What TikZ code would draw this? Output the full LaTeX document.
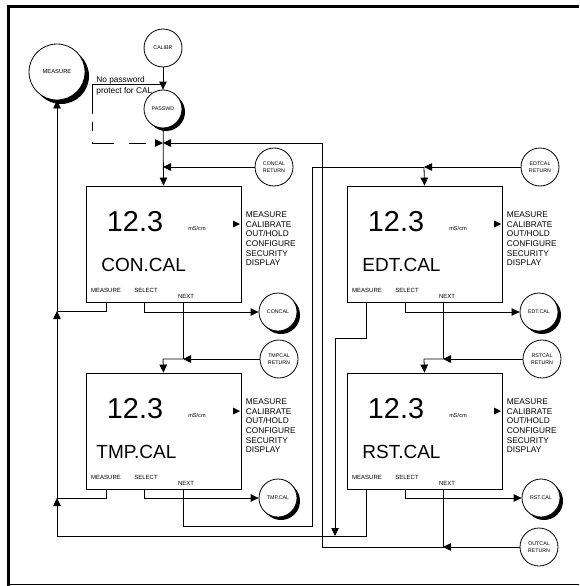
\documentclass[tikz,border=0pt]{standalone}
\usepackage{fontspec}
\setmainfont{Liberation Sans}
\usetikzlibrary{arrows.meta,shadows}
\begin{document}
\begin{tikzpicture}[x=1pt,y=-1pt,line width=0.8pt,
  arr/.style={-{Triangle[length=8pt,width=7.5pt]}},
  circ/.style={circle,draw,fill=white,minimum size=38pt,inner sep=0pt,align=center,font=\fontsize{5.3}{6.8}\selectfont},
  shcirc/.style={circ,drop shadow={shadow xshift=3pt,shadow yshift=-3pt,fill=black,opacity=1}},
  bigcirc/.style={circle,draw,fill=white,minimum size=56pt,inner sep=0pt,font=\fontsize{5.8}{7}\selectfont,
     drop shadow={shadow xshift=4pt,shadow yshift=-4pt,fill=black,opacity=1}},
  lcd/.style={draw,minimum width=155pt,minimum height=116pt,inner sep=0pt},
  bignum/.style={font=\fontsize{28.8}{30}\selectfont,anchor=base,inner sep=0pt},
  lcdname/.style={font=\fontsize{19}{20}\selectfont,anchor=base west,inner sep=0pt},
  unitlbl/.style={font=\fontsize{5.6}{6}\selectfont,anchor=base,inner sep=0pt},
  keylbl/.style={font=\fontsize{6}{7}\selectfont,anchor=base,inner sep=0pt},
  menulbl/.style={font=\fontsize{8.3}{9.7}\selectfont,anchor=base west,inner sep=0pt},
  notelbl/.style={font=\fontsize{8.3}{9.7}\selectfont,anchor=base west,inner sep=0pt}
]
\useasboundingbox (0,0) rectangle (579,586);
% frame
\draw[line width=3pt] (7,6.5) -- (579,6.5);
\draw[line width=3pt] (8.5,5) -- (8.5,585.5);
\draw[line width=1.3pt] (7,584.6) -- (579,584.6);

% panel macro: #1 left x, #2 top y, #3 prefix, #4 name, #5 name x offset
\newcommand\lcdpanel[5]{%
  \node[bignum] (#3num) at (#1+49,#2+45.5) {12.3};
  \node[unitlbl] (#3unit) at (#1+111,#2+44) {mS/cm};
  \node[lcdname] (#3name) at (#1+#5,#2+85) {#4};
  \node[keylbl] (#3meas) at (#1+20,#2+106.5) {MEASURE};
  \node[keylbl] (#3sel) at (#1+60,#2+106.5) {SELECT};
  \node[keylbl] (#3next) at (#1+100,#2+112.5) {NEXT};
  \fill (#1+147,#2+34.5) -- (#1+154,#2+38) -- (#1+147,#2+41.5) -- cycle;
  \foreach \t [count=\i from 0] in {MEASURE,CALIBRATE,OUT/HOLD,CONFIGURE,SECURITY,DISPLAY}
    \node[menulbl] (#3menu\i) at (#1+159.5,#2+31.3+9.7*\i) {\t};
}

% boxes
\node[lcd] (b1) at (163.5,244) {};
\node[lcd] (b2) at (163.5,431) {};
\node[lcd] (b3) at (424.5,244) {};
\node[lcd] (b4) at (424.5,431) {};
\lcdpanel{86}{186}{p1}{CON.CAL}{15}
\lcdpanel{86}{373}{p2}{TMP.CAL}{10}
\lcdpanel{347}{186}{p3}{EDT.CAL}{15}
\lcdpanel{347}{373}{p4}{RST.CAL}{15}

% circles
\node[bigcirc] (measure) at (57,72) {MEASURE};
\node[circ] (calibr) at (163,48) {CALIBR};
\node[shcirc] (passwd) at (163,109) {PASSWD};
\node[circ] (concalret) at (274,167) {CONCAL\\RETURN};
\node[circ] (edtcalret) at (540,167) {EDTCAL\\RETURN};
\node[shcirc] (concal) at (278,312) {CONCAL};
\node[circ] (tmpcalret) at (279,359) {TMPCAL\\RETURN};
\node[shcirc] (tmpcal) at (278,498) {TMP.CAL};
\node[shcirc] (edtcal) at (539,312) {EDT.CAL};
\node[circ] (rstcalret) at (542,359) {RSTCAL\\RETURN};
\node[shcirc] (rstcal) at (541,498) {RST.CAL};
\node[circ] (outcalret) at (539,547) {OUTCAL\\RETURN};

% note
\node[notelbl] (note1) at (96,82.3) {No password};
\node[notelbl] (note2) at (96,93.3) {protect for CAL};

% junctions
\coordinate (np) at (163,84);
\coordinate (ja) at (163,143);
\coordinate (jb) at (163,167);
\coordinate (jc) at (424,167);
\coordinate (jd) at (183,359);
\coordinate (je) at (443,359);
\coordinate (jf) at (443,547);
\coordinate (jg) at (57,311);
\coordinate (jh) at (57,498);

% top
\draw[arr] (calibr) -- (passwd);
\draw[arr] (passwd) -- (b1.north);
\draw[arr,dash pattern=on 101pt off 8pt on 9pt off 11pt on 23pt off 15pt on 17pt off 40pt] (np) -- (92,84) -- (92,143) -- (ja);
\draw[arr] (concalret) -- (jb);
\draw[arr] (edtcalret) -- (jc);
\draw[arr] (jc) -- (b3.north);

% SELECT lines
\draw[arr] (144,0 |- b1.south) -- (144,0 |- concal) -- (concal);
\draw[arr] (144,0 |- b2.south) -- (144,0 |- tmpcal) -- (tmpcal);
\draw[arr] (405,0 |- b3.south) -- (405,0 |- edtcal) -- (edtcal);
\draw[arr] (405,0 |- b4.south) -- (405,0 |- rstcal) -- (rstcal);

% NEXT lines
\draw (183,0 |- b1.south) -- (jd);
\draw[arr] (tmpcalret) -- (jd);
\draw[arr] (jd) -- (163,359) -- (b2.north);
\draw (183,0 |- b2.south) -- (183,526) -- (312,526) -- (312,167) -- (jc);
\draw (443,0 |- b3.south) -- (je);
\draw[arr] (rstcalret) -- (je);
\draw[arr] (je) -- (424,359) -- (b4.north);
\draw[arr] (443,0 |- b4.south) -- (jf) -- (322,547) -- (322,143) -- (ja);
\draw[arr] (outcalret) -- (jf);

% MEASURE lines
\draw (106,0 |- b1.south) -- (106,311) -- (jg);
\draw (106,0 |- b2.south) -- (106,498) -- (jh);
\draw (366,0 |- b4.south) -- (366,536) -- (57,536) -- (57,520);
\draw[arr] (57,520) -- (jh);
\draw[arr] (jh) -- (jg);
\draw[arr] (jg) -- (measure);
\draw[arr] (366,0 |- b3.south) -- (366,338) -- (335,338) -- (335,536);
\end{tikzpicture}
\end{document}
